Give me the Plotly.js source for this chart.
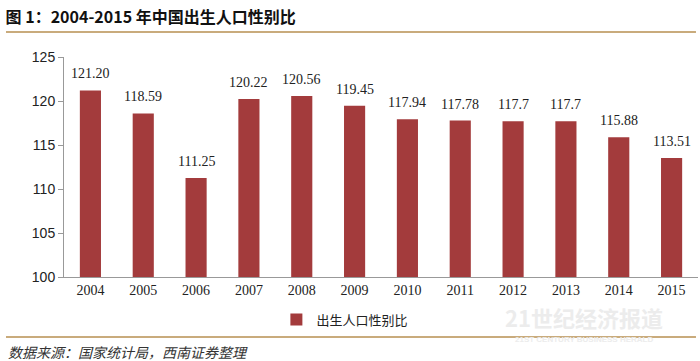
<!DOCTYPE html>
<html><head><meta charset="utf-8">
<script src="https://cdn.plot.ly/plotly-3.0.1.min.js"></script>
<style>html,body{margin:0;padding:0;background:#fff}#c{width:700px;height:361px}</style>
</head><body><div id="c"></div>
<script>
const years = ['2004','2005','2006','2007','2008','2009','2010','2011','2012','2013','2014','2015'];
const ratio = [121.20,118.59,111.25,120.22,120.56,119.45,117.94,117.78,117.7,117.7,115.88,113.51];
const labels = ['121.20','118.59','111.25','120.22','120.56','119.45','117.94','117.78','117.7','117.7','115.88','113.51'];
const seriesName = '出生人口性别比';
const titleText = '图 1：2004-2015 年中国出生人口性别比';
const sourceText = '数据来源：国家统计局，西南证券整理';

const serif = 'Liberation Serif, Times New Roman, serif';
const cjk = 'Noto Sans CJK SC, sans-serif';

const annotations = years.map((y,i)=>({
  x: i, y: ratio[i], xref:'x', yref:'y', text: labels[i], showarrow:false,
  yanchor:'bottom', yshift:7, font:{family:serif,size:14,color:'#222'}
}));
annotations.push({xref:'paper',yref:'paper',x:-0.0915,y:-0.34,xanchor:'left',yanchor:'middle',
  text:sourceText,showarrow:false,font:{family:cjk,size:14,color:'#333',style:'italic'}});
annotations.push({xref:'paper',yref:'paper',x:0.82,y:-0.18,xanchor:'center',yanchor:'middle',
  text:'<b>21世纪经济报道</b>',showarrow:false,font:{family:cjk,size:22,color:'#ececec'}});
annotations.push({xref:'paper',yref:'paper',x:0.82,y:-0.285,xanchor:'center',yanchor:'middle',
  text:'<b>21ST CENTURY BUSINESS HERALD</b>',showarrow:false,font:{family:'Liberation Sans, Arial',size:8,color:'#ececec'}});

const trace = {
  type:'bar', x: years, y: ratio, name: seriesName,
  marker:{color:'#A33B3C'}, width:0.4, showlegend:true
};

const layout = {
  width:700, height:361,
  margin:{l:64,r:2,t:57,b:84},
  paper_bgcolor:'#fff', plot_bgcolor:'#fff',
  title:{text:'<b>'+titleText+'</b>', xref:'container', yref:'container', x:0.008, xanchor:'left', y:0.953, yanchor:'middle',
    font:{family:cjk,size:16,color:'#111'}},
  xaxis:{type:'category', range:[-0.5,11.5], showline:true, linecolor:'#999', linewidth:1, ticks:'', showgrid:false,
    tickfont:{family:serif,size:14,color:'#222'}, fixedrange:true},
  yaxis:{range:[100,125], dtick:5, showline:true, linecolor:'#999', linewidth:1, ticks:'outside', ticklen:5, tickcolor:'#999',
    showgrid:false, zeroline:false, tickfont:{family:'Liberation Sans, Arial, sans-serif',size:14,color:'#222'}},
  showlegend:true,
  legend:{orientation:'h', x:0.335, xanchor:'left', y:-0.125, yanchor:'top',
    font:{family:cjk,size:13,color:'#222'}, itemwidth:30, bgcolor:'rgba(0,0,0,0)'},
  shapes:[
    {type:'line', xref:'paper', yref:'paper', x0:-0.0915, x1:0.9968, y0:1.1136, y1:1.1136, line:{color:'#C9AB7C',width:2}},
    {type:'line', xref:'paper', yref:'paper', x0:-0.0915, x1:0.9968, y0:-0.2727, y1:-0.2727, line:{color:'#C9AB7C',width:2}}
  ],
  annotations: annotations
};
Plotly.newPlot('c',[trace],layout,{displayModeBar:false,staticPlot:true});
</script></body></html>
